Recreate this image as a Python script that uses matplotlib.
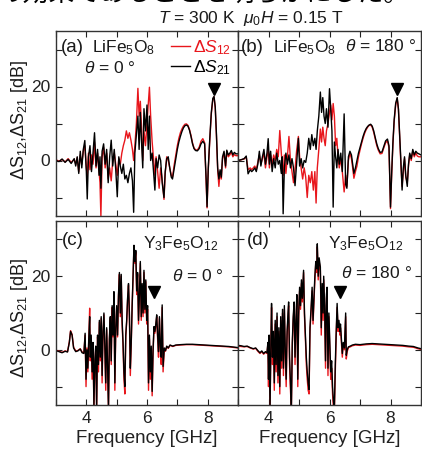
import matplotlib
matplotlib.use('Agg')
import matplotlib.pyplot as plt
from matplotlib.lines import Line2D

plt.rcParams['font.family'] = ['Liberation Sans', 'DejaVu Sans']
plt.rcParams['mathtext.fontset'] = 'custom'
plt.rcParams['mathtext.rm'] = 'Liberation Sans'
plt.rcParams['mathtext.it'] = 'Liberation Sans:italic'
plt.rcParams['mathtext.bf'] = 'Liberation Sans:bold'

# ---- data (frequency in GHz, dB) ----
freq_a = [3.00, 3.10, 3.20, 3.30, 3.40, 3.50, 3.60, 3.65, 3.70, 3.75,
          3.80, 3.85, 3.90, 3.95, 4.00, 4.03, 4.07, 4.12, 4.17, 4.22,
          4.27, 4.32, 4.37, 4.42, 4.45, 4.48, 4.52, 4.57, 4.62, 4.67,
          4.72, 4.77, 4.82, 4.87, 4.92, 4.97, 5.02, 5.07, 5.12, 5.17,
          5.22, 5.27, 5.32, 5.37, 5.42, 5.47, 5.52, 5.56, 5.60, 5.65,
          5.70, 5.74, 5.78, 5.82, 5.86, 5.90, 5.95, 6.00, 6.04, 6.08,
          6.12, 6.17, 6.22, 6.26, 6.30, 6.35, 6.40, 6.45, 6.50, 6.56,
          6.60, 6.65, 6.70, 6.75, 6.80, 6.84, 6.90, 6.95, 7.00, 7.05,
          7.10, 7.15, 7.20, 7.25, 7.30, 7.35, 7.40, 7.45, 7.50, 7.55,
          7.60, 7.66, 7.72, 7.78, 7.84, 7.90, 7.95, 7.98, 8.02, 8.07,
          8.12, 8.17, 8.21, 8.25, 8.29, 8.33, 8.37, 8.41, 8.45, 8.49,
          8.54, 8.59, 8.63, 8.68, 8.73, 8.78, 8.83, 8.88, 8.93, 9.00]
s21_a = [0.0, -0.3, 0.4, -0.5, 0.3, -0.8, 0.5, -1.5, 1.0, -3.5,
         2.5, -2.0, 3.0, 5.4, -3.0, -10.4, 1.0, 4.0, -3.0, 2.0,
         7.5, -1.5, 3.0, -4.0, 1.0, -7.5, 2.5, 4.5, -1.0, 3.0,
         -6.0, 1.0, 5.5, -1.5, 3.0, -2.5, -9.8, 1.0, -1.5, -3.5,
         -1.0, -5.0, -4.0, -6.0, -3.5, -2.0, -5.5, -14.0, 2.0, 7.0,
         12.0, 3.0, 13.0, 5.0, -2.0, 14.0, 8.0, 15.0, 3.0, 12.0,
         0.0, 2.0, -3.5, -8.0, 0.5, -2.0, 1.5, 0.0, -6.0, -10.0,
         -3.0, 0.5, 1.0, -2.0, -4.5, -5.0, -2.0, 0.5, 3.0, 5.0,
         6.5, 7.8, 8.8, 9.4, 9.6, 9.3, 8.2, 6.5, 4.5, 3.2,
         2.7, 2.6, 3.2, 4.5, 5.2, 4.5, -5.0, -12.5, -2.0, 6.0,
         13.0, 16.8, 17.3, 14.5, 7.0, -2.0, -5.0, -2.5, -4.5, 1.0,
         2.5, -1.5, 2.8, 1.5, 2.0, 2.7, 1.5, 2.2, 1.8, 1.8]
s12_a = [0.2, -0.2, 0.3, -0.4, 0.5, -0.5, 0.3, -1.0, 0.8, -3.0,
         1.5, -1.0, 2.5, 4.0, -2.0, -4.0, 2.0, -2.5, 1.5, -1.0,
         5.0, -2.0, 2.0, -3.0, -6.0, -15.0, 1.0, 3.5, -2.0, 2.0,
         -5.0, -2.0, -5.5, 0.0, 2.0, -1.0, -4.0, 0.5, -1.0, 2.0,
         4.0, 5.5, 8.0, 6.0, 7.5, 5.5, 3.0, 0.0, 4.0, 10.0,
         19.5, 12.0, 16.0, 9.0, 0.0, 8.0, 4.0, 10.0, 15.0, 19.8,
         12.0, 5.0, 0.0, -4.0, 1.0, -3.0, -7.5, -2.0, -5.0, -10.5,
         -3.5, 1.0, 0.0, -2.0, -4.0, -4.5, -1.0, 1.5, 4.0, 6.0,
         7.5, 8.5, 9.3, 9.8, 9.9, 9.5, 8.4, 6.8, 4.8, 3.4,
         2.9, 2.8, 3.6, 5.2, 5.9, 4.8, -6.0, -12.8, -2.5, 5.5,
         12.5, 16.5, 17.2, 14.2, 6.5, -2.5, -7.0, -3.0, -5.0, 0.5,
         2.0, -2.0, 2.5, 1.0, 1.5, 2.3, 1.0, 1.6, 1.3, 1.3]

freq_b = [3.00, 3.10, 3.20, 3.27, 3.33, 3.40, 3.45, 3.50, 3.55, 3.60,
          3.65, 3.70, 3.75, 3.80, 3.85, 3.90, 3.95, 3.99, 4.03, 4.07,
          4.12, 4.17, 4.22, 4.27, 4.32, 4.37, 4.42, 4.45, 4.48, 4.52,
          4.57, 4.62, 4.67, 4.72, 4.77, 4.82, 4.87, 4.92, 4.98, 5.02,
          5.07, 5.12, 5.17, 5.22, 5.27, 5.32, 5.37, 5.42, 5.47, 5.52,
          5.56, 5.60, 5.65, 5.70, 5.74, 5.78, 5.82, 5.86, 5.90, 5.95,
          6.00, 6.04, 6.08, 6.12, 6.16, 6.20, 6.24, 6.28, 6.32, 6.37,
          6.42, 6.48, 6.53, 6.57, 6.62, 6.67, 6.72, 6.76, 6.80, 6.85,
          6.90, 6.95, 7.00, 7.05, 7.10, 7.15, 7.20, 7.25, 7.30, 7.35,
          7.40, 7.45, 7.50, 7.55, 7.60, 7.66, 7.72, 7.78, 7.84, 7.90,
          7.95, 8.00, 8.04, 8.08, 8.12, 8.17, 8.22, 8.26, 8.30, 8.34,
          8.38, 8.42, 8.46, 8.50, 8.55, 8.59, 8.63, 8.68, 8.73, 8.78,
          8.83, 8.88, 8.93, 9.00]
s21_b = [0.0, 0.2, 0.5, 1.2, -3.6, -2.5, -3.0, -2.6, -2.0, -3.0,
         -1.0, 2.5, -1.5, 1.0, 3.0, -1.0, 2.0, 5.9, -1.0, 2.5,
         -3.0, 0.5, -2.0, 2.0, -1.0, 0.0, -3.5, 1.0, -14.4, -2.0,
         2.0, -1.0, 1.5, -2.0, 0.5, -2.0, -6.8, -1.0, 6.0, -1.5,
         0.5, -2.0, 0.0, -0.5, 2.0, 6.0, 3.0, 7.0, 4.0, 6.0,
         3.0, 8.0, 12.0, 18.5, 13.0, 17.0, 12.0, 10.0, 14.0, 9.0,
         19.4, 14.0, 8.0, -12.6, 5.0, 1.0, -2.0, 3.0, -1.0, 2.0,
         -3.0, 12.6, -6.5, -7.5, 1.0, 2.5, 1.5, -1.0, -3.5, -2.0,
         0.0, 2.0, 3.5, 5.0, 6.5, 7.7, 8.6, 9.2, 9.6, 9.8,
         9.3, 8.0, 6.2, 4.5, 3.2, 2.2, 2.3, 3.8, 5.3, 5.8,
         4.0, -12.6, -3.0, 5.0, 11.0, 15.5, 17.0, 14.0, 7.0, 0.0,
         -8.0, -2.0, 1.0, -4.0, -7.0, -1.0, 2.0, 0.5, 3.0, 1.5,
         2.5, 2.0, 1.8, 1.5]
s12_b = [0.0, 0.2, 0.4, 1.0, -2.5, -2.0, -2.5, -2.0, -1.5, -2.5,
         -0.5, 1.5, -1.0, 0.5, 2.0, -2.0, 1.0, 3.0, -2.0, 1.5,
         -1.0, 1.5, 0.0, 3.0, 1.0, 8.1, 2.0, -1.0, -4.0, 1.5,
         -3.5, 1.0, 6.5, 0.0, -3.0, -6.0, -2.5, 2.5, 6.5, 1.0,
         -2.0, -5.0, -2.0, -4.5, -10.0, -4.0, -6.0, -3.0, -8.0, -3.0,
         -11.5, -2.0, 3.0, 8.5, 5.0, 9.0, 6.0, 4.0, 8.0, 10.0,
         13.0, 15.0, 11.0, 15.4, 12.0, 4.0, 6.0, 1.0, -2.0, 0.5,
         -3.0, -8.5, -4.0, -7.0, 0.0, 2.0, 0.5, -2.0, -4.8, -3.0,
         -1.5, 1.0, 2.8, 4.5, 6.0, 7.3, 8.3, 9.0, 9.5, 9.6,
         9.0, 7.6, 5.8, 4.0, 2.8, 1.8, 1.9, 3.4, 4.8, 5.3,
         3.5, -13.0, -3.5, 4.5, 10.5, 15.0, 16.8, 13.8, 6.5, -1.0,
         -7.0, -3.0, 0.5, -4.5, -6.0, -1.5, 1.5, 0.0, 2.5, 1.0,
         2.0, 1.2, 1.0, 1.0]

freq_c = [3.00, 3.10, 3.20, 3.30, 3.38, 3.44, 3.48, 3.53, 3.58, 3.65,
          3.72, 3.80, 3.86, 3.92, 3.96, 3.99, 4.02, 4.05, 4.08, 4.11,
          4.13, 4.16, 4.19, 4.22, 4.25, 4.28, 4.31, 4.34, 4.37, 4.40,
          4.43, 4.46, 4.49, 4.52, 4.55, 4.58, 4.61, 4.64, 4.67, 4.70,
          4.73, 4.76, 4.79, 4.82, 4.85, 4.88, 4.91, 4.94, 4.97, 5.00,
          5.03, 5.06, 5.09, 5.12, 5.15, 5.18, 5.21, 5.24, 5.27, 5.30,
          5.33, 5.36, 5.39, 5.42, 5.45, 5.48, 5.51, 5.54, 5.57, 5.60,
          5.63, 5.66, 5.69, 5.72, 5.75, 5.78, 5.81, 5.84, 5.87, 5.90,
          5.93, 5.96, 5.99, 6.02, 6.05, 6.08, 6.11, 6.14, 6.17, 6.20,
          6.23, 6.26, 6.29, 6.32, 6.35, 6.38, 6.41, 6.44, 6.47, 6.50,
          6.53, 6.57, 6.61, 6.65, 6.70, 6.76, 6.85, 6.95, 7.10, 7.30,
          7.50, 7.70, 7.90, 8.10, 8.30, 8.50, 8.70, 8.90, 9.00]
s21_c = [-0.2, -0.5, -0.8, -0.4, -0.6, 2.0, 5.0, 4.0, 0.5, -0.5,
         -0.3, 0.2, -0.8, -1.0, 4.5, -8.0, 0.0, -5.0, 3.0, 9.0,
         -2.0, 4.0, -6.0, 2.0, -15.0, -3.0, 1.0, -16.0, 4.0, -4.0,
         8.0, -2.0, 9.0, -7.0, 5.0, 10.0, 1.0, -9.0, 6.0, -4.0,
         -16.0, 3.0, 9.0, -3.0, 12.0, 4.0, 15.8, -9.0, 6.0, 12.0,
         4.0, 15.0, 21.0, 10.0, 20.5, 8.0, 2.0, -6.0, -10.0, 4.0,
         8.0, 14.0, 18.0, 10.0, -5.0, 2.0, 12.0, 20.0, 28.4, 24.0,
         27.0, 16.0, 21.0, 8.0, 15.0, 24.0, 9.0, 18.0, 10.0, 21.6,
         11.0, 19.0, 8.0, 12.0, -9.0, 4.0, -6.0, 1.0, -11.3, 0.0,
         6.3, 5.0, 7.0, 9.5, 4.0, -0.5, 9.0, 1.0, -2.0, 12.2,
         -4.5, 0.5, -0.2, 1.0, 0.5, 1.3, 1.0, 1.3, 1.4, 1.5,
         1.5, 1.4, 1.3, 1.2, 1.1, 1.0, 0.9, 0.7, 0.6]
s12_c = [-0.1, -0.4, -0.7, -0.3, -0.5, 2.2, 5.2, 4.2, 0.7, -0.3,
         -0.2, 0.3, -0.6, -0.8, 4.0, -10.0, 0.5, -6.0, 2.5, 11.3,
         -3.0, 3.5, -8.0, 1.5, -16.0, -4.0, 0.5, -16.0, 3.5, -6.0,
         7.5, -3.0, 8.5, -9.0, 4.5, 9.5, 0.0, -11.0, 5.5, -5.0,
         -16.0, 2.5, 8.5, -4.0, 11.5, 3.5, 15.0, -11.0, 5.5, 11.5,
         3.5, 14.5, 20.5, 9.0, 20.0, 7.0, 1.0, -8.0, -12.0, 3.5,
         7.5, 13.5, 17.5, 9.0, -7.0, 1.5, 11.5, 19.5, 28.0, 23.5,
         26.5, 15.0, 20.5, 7.0, 14.5, 23.5, 8.0, 17.5, 9.0, 21.0,
         10.0, 18.5, 7.0, 11.0, -11.0, 3.0, -8.0, 0.0, -12.5, -1.0,
         5.8, 4.5, 6.5, 9.0, 3.0, -2.0, 8.5, 0.0, -4.0, 11.5,
         -6.0, 0.0, -0.4, 0.9, 0.4, 1.2, 0.9, 1.2, 1.3, 1.4,
         1.4, 1.3, 1.2, 1.1, 1.0, 0.9, 0.8, 0.6, 0.5]

freq_d = [3.00, 3.10, 3.20, 3.30, 3.40, 3.50, 3.58, 3.65, 3.72, 3.78,
          3.84, 3.90, 3.95, 3.98, 4.00, 4.02, 4.05, 4.08, 4.10, 4.13,
          4.16, 4.19, 4.22, 4.25, 4.28, 4.31, 4.34, 4.37, 4.40, 4.43,
          4.46, 4.49, 4.52, 4.55, 4.58, 4.61, 4.64, 4.66, 4.69, 4.72,
          4.75, 4.78, 4.81, 4.84, 4.87, 4.90, 4.93, 4.96, 4.99, 5.02,
          5.05, 5.08, 5.11, 5.15, 5.18, 5.21, 5.24, 5.27, 5.30, 5.33,
          5.36, 5.40, 5.43, 5.46, 5.49, 5.52, 5.55, 5.58, 5.60, 5.63,
          5.66, 5.70, 5.73, 5.76, 5.79, 5.81, 5.84, 5.87, 5.90, 5.92,
          5.95, 5.98, 6.01, 6.04, 6.07, 6.10, 6.13, 6.16, 6.19, 6.22,
          6.25, 6.28, 6.31, 6.34, 6.36, 6.39, 6.42, 6.45, 6.49, 6.53,
          6.55, 6.58, 6.62, 6.68, 6.75, 6.85, 7.00, 7.20, 7.40, 7.60,
          7.80, 8.00, 8.20, 8.40, 8.60, 8.75, 8.90, 9.00]
s21_d = [1.2, 1.1, 0.9, 1.0, 0.6, 0.3, 0.5, -0.2, -0.8, -0.3,
         -1.0, -0.5, -0.8, 2.0, -8.0, 4.0, -16.0, 3.0, 12.6, -2.0,
         5.0, -9.0, 8.0, -4.0, 10.0, -7.0, 6.0, -10.0, 9.0, -3.0,
         11.0, -5.0, 12.0, 0.0, -8.0, 5.0, 10.0, 13.0, -2.0, -9.0,
         -16.0, 2.0, 9.0, 13.0, -2.0, 8.0, 15.0, -8.0, 10.0, 17.0,
         12.0, 19.0, 14.0, 21.6, 10.0, 4.0, -2.0, -6.0, -9.0, -10.8,
         6.0, 12.0, 17.0, 8.0, 14.0, 20.0, 24.0, 22.0, 28.8, 20.0,
         25.0, 22.5, 6.0, 18.0, 10.0, 20.0, 12.0, -3.0, 15.0, 17.0,
         -5.0, 10.0, 2.0, -6.0, -3.0, -10.0, -14.0, -16.0, -4.0, 5.0,
         12.6, 6.0, 8.0, 5.0, 7.0, 3.0, -1.0, 2.0, 0.5, 10.0,
         -1.5, 0.0, 0.8, 1.0, 1.3, 1.5, 1.4, 1.6, 1.7, 1.6,
         1.5, 1.4, 1.3, 1.2, 1.0, 0.9, 0.5, 0.3]
s12_d = [1.0, 0.9, 0.8, 0.9, 0.5, 0.2, 0.4, -0.4, -1.0, -0.5,
         -1.2, -0.7, -1.0, 1.5, -10.0, 3.5, -16.0, 2.0, 11.5, -4.0,
         4.0, -11.0, 7.0, -6.0, 9.0, -9.0, 5.0, -12.0, 8.0, -5.0,
         10.0, -7.0, 11.0, -2.0, -10.0, 4.0, 9.0, 12.0, -4.0, -11.0,
         -16.0, 1.0, 8.0, 12.0, -4.0, 7.0, 14.0, -10.0, 9.0, 16.0,
         11.0, 18.0, 13.0, 21.0, 9.0, 3.0, -4.0, -8.0, -11.0, -12.0,
         5.0, 11.0, 16.0, 7.0, 13.0, 19.0, 23.5, 21.0, 28.0, 19.0,
         24.0, 21.5, 4.0, 17.0, 8.0, 19.0, 10.0, -5.0, 14.0, 16.0,
         -7.0, 9.0, 0.0, -8.0, -5.0, -12.0, -16.0, -16.0, -6.0, 4.0,
         11.5, 5.0, 7.0, 4.0, 6.0, 2.0, -2.0, 1.5, 0.0, 9.0,
         -2.5, -0.5, 0.6, 0.8, 1.1, 1.3, 1.2, 1.4, 1.5, 1.4,
         1.3, 1.2, 1.1, 1.0, 0.8, 0.7, 0.3, 0.1]

# resonance markers (freq, level) per panel
mark_f = [8.20, 8.22, 6.23, 6.34]
mark_v = [19.3, 19.3, 15.8, 15.8]

xticks = [3, 4, 5, 6, 7, 8, 9]
xticklabels = ['', '4', '', '6', '', '8', '']
yticks = [-10, 0, 10, 20, 30]
yticklabels = ['', '0', '', '20', '']

W, H = 422, 449
fig = plt.figure(figsize=(W / 100, H / 100), dpi=100)

def box(x0, y0, x1, y1):
    return [x0 / W, 1 - y1 / H, (x1 - x0) / W, (y1 - y0) / H]

ax_a = fig.add_axes(box(56, 31, 238, 216))
ax_b = fig.add_axes(box(238, 31, 421, 216))
ax_c = fig.add_axes(box(56, 221, 238, 405))
ax_d = fig.add_axes(box(238, 221, 421, 405))

red = '#e8161c'
panels = [(ax_a, freq_a, s12_a, s21_a), (ax_b, freq_b, s12_b, s21_b),
          (ax_c, freq_c, s12_c, s21_c), (ax_d, freq_d, s12_d, s21_d)]

for i, (ax, f, r, k) in enumerate(panels):
    ax.plot(f, r, color=red, lw=1.0)
    ax.plot(f, k, color='black', lw=1.0)
    ax.plot(mark_f[i], mark_v[i], marker='v', color='black', ms=9, ls='none')
    ax.set_xlim(3, 9)
    ax.set_ylim(-15, 35)
    ax.set_xticks(xticks)
    ax.set_yticks(yticks)
    ax.tick_params(direction='in', top=True, right=True, length=4,
                   width=0.8, labelsize=12.5, colors='#222222', pad=4)
    for s in ax.spines.values():
        s.set_linewidth(1.0)
        s.set_color('#333333')
    if i in (0, 2):
        ax.set_yticklabels(yticklabels)
    else:
        ax.set_yticklabels([])
    if i in (2, 3):
        ax.set_xticklabels(xticklabels)
        ax.set_xlabel('Frequency [GHz]', fontsize=13.5, labelpad=3, color='#222222')
    else:
        ax.set_xticklabels([])

# legend for panel (a), drawn on the figure so panel (b) does not hide it
handles = [Line2D([], [], color=red, lw=1.0), Line2D([], [], color='black', lw=1.0)]
fig.legend(handles, [r'$\Delta S_{12}$', r'$\Delta S_{21}$'], loc='upper left',
           bbox_to_anchor=(171 / W, 1 - 38 / H),
           frameon=False, fontsize=12.5, handlelength=1.1, handletextpad=0.15,
           labelspacing=0.1, borderpad=0, borderaxespad=0, labelcolor='linecolor')

def ftext(x, y, s, size=12.5, **kw):
    fig.text(x / W, 1 - y / H, s, fontsize=size, va='center', color='#1a1a1a', **kw)

ylab = r'$\Delta$S$_{12}$,$\Delta$S$_{21}$ [dB]'
ftext(20, 120, ylab, size=13, rotation=90, ha='center')
ftext(20, 318, ylab, size=13, rotation=90, ha='center')

ftext(251, 19, r'$T$ = 300 K  $\mu_{\mathit{0}}H$ = 0.15 T', size=12.5, ha='center')

ftext(61, 48, '(a)', size=13.5)
ftext(92, 48, r'LiFe$_5$O$_8$', size=12.5)
ftext(84, 68, r'$\theta$ = 0 °', size=12.5)

ftext(241, 48, '(b)', size=13.5)
ftext(273, 48, r'LiFe$_5$O$_8$', size=12.5)
ftext(345, 46, r'$\theta$ = 180 °', size=12.5)

ftext(62, 240, '(c)', size=13.5)
ftext(143, 244, r'Y$_3$Fe$_5$O$_{12}$', size=12.5)
ftext(172, 276, r'$\theta$ = 0 °', size=12.5)

ftext(247, 240, '(d)', size=13.5)
ftext(328, 244, r'Y$_3$Fe$_5$O$_{12}$', size=12.5)
ftext(341, 273, r'$\theta$ = 180 °', size=12.5)

# caption line cut off at the top of the crop: only its lower part shows
fig.text(-0.005, 1 - 7 / H, 'の効果であることを明らかにした。', fontsize=18.5,
         family=['Noto Sans CJK JP', 'DejaVu Sans'], va='bottom', ha='left')

fig.savefig('out.png', dpi=100)
